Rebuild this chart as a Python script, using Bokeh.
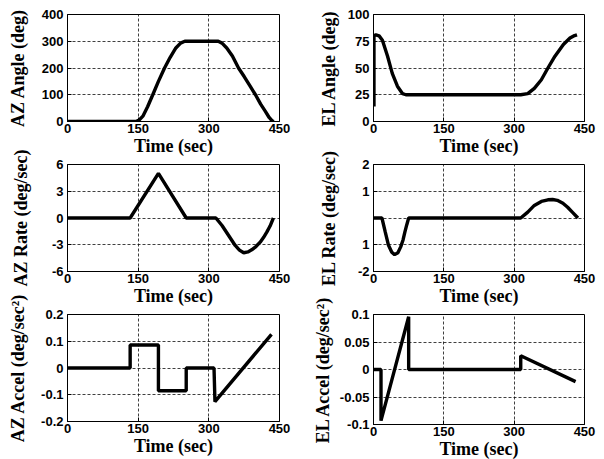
from bokeh.plotting import figure
from bokeh.layouts import column, row
from bokeh.models import FixedTicker, Range1d
from bokeh.embed import file_html
from bokeh.resources import INLINE

# ---------------- data ----------------
x_ticks = [0, 150, 300, 450]
x_tick_labels = ["0", "150", "300", "450"]
x_label = "Time (sec)"

az_angle_t = [0, 145, 152, 160, 170, 181, 193, 206, 218, 230, 240, 249, 320, 328, 338, 350, 363, 375, 387, 399, 410, 420, 428, 434, 438]
az_angle_v = [0, 0, 5, 20, 55, 100, 150, 200, 240, 275, 293, 300, 300, 293, 275, 245, 200, 168, 134, 100, 65, 38, 15, 3, 0]

el_angle_t = [1, 1, 5, 12, 19, 30, 40, 51, 62, 69, 314, 329, 343, 358, 372, 387, 405, 419, 427, 434]
el_angle_v = [14, 80, 81, 80, 76, 61, 45, 33, 26, 25, 25, 26, 31, 39, 50, 61, 72, 78, 80, 81]

az_rate_t = [0, 133, 193, 252, 315, 328, 342, 356, 365, 374, 383, 391, 400, 409, 416, 423, 430, 437]
az_rate_v = [0, 0, 5, 0, 0, -0.84, -1.96, -3.08, -3.6, -3.9, -3.8, -3.57, -3.2, -2.71, -2.2, -1.59, -0.9, 0]

el_rate_t = [0, 18, 25, 32, 39, 45, 52, 58, 63, 67, 71, 75, 314, 329, 343, 358, 372, 382, 392, 404, 414, 425, 436]
el_rate_v = [0, 0, -0.52, -1.02, -1.28, -1.37, -1.3, -1.08, -0.82, -0.52, -0.25, 0, 0, 0.22, 0.47, 0.62, 0.68, 0.69, 0.66, 0.55, 0.4, 0.2, 0]

az_accel_t = [0, 133, 133, 193, 193, 252, 252, 311, 313, 433]
az_accel_v = [0, 0, 0.086, 0.086, -0.085, -0.085, 0, 0, -0.126, 0.126]

el_accel_t = [0, 16, 16, 75, 75, 314, 314, 431]
el_accel_v = [0, 0, -0.093, 0.096, 0, 0, 0.025, -0.022]

az_angle_ticks = [0, 100, 200, 300, 400]
az_angle_labels = ["0", "100", "200", "300", "400"]
el_angle_ticks = [0, 25, 50, 75, 100]
el_angle_labels = ["0", "25", "50", "75", "100"]
az_rate_ticks = [-6, -3, 0, 3, 6]
az_rate_labels = ["-6", "-3", "0", "3", "6"]
el_rate_ticks = [-2, -1, 0, 1, 2]
el_rate_labels = ["-2", "1", "", "1", "2"]
az_accel_ticks = [-0.2, -0.1, 0, 0.1, 0.2]
az_accel_labels = ["-0.2", "-0.1", "0", "0.1", "0.2"]
el_accel_ticks = [-0.1, -0.05, 0, 0.05, 0.1]
el_accel_labels = ["-0.1", "-0.05", "0", "0.05", "0.1"]

y_labels = ["AZ Angle (deg)", "EL Angle (deg)", "AZ Rate (deg/sec)",
            "EL Rate (deg/sec)", "AZ Accel (deg/sec\u00b2)", "EL Accel (deg/sec\u00b2)"]

# ---------------- styling helpers ----------------
TICK_FONT = "Liberation Sans"
LABEL_FONT = "Liberation Serif"


def panel(t, v, yticks, ylabels, ylabel, left_col, b_top, f_h, b_bot, ylab_standoff):
    if left_col:
        bl, fw, br = 67, 212, 23
    else:
        bl, fw, br = 71, 211, 20
    p = figure(frame_width=fw, frame_height=f_h,
               min_border_left=bl, min_border_right=br,
               min_border_top=b_top, min_border_bottom=b_bot,
               x_range=Range1d(0, 450), y_range=Range1d(yticks[0], yticks[-1]),
               output_backend="svg", toolbar_location=None,
               background_fill_color="white", border_fill_color=None,
               outline_line_color="black", outline_line_width=1)
    p.line(t, v, line_color="black", line_width=3.4)
    p.xaxis.ticker = FixedTicker(ticks=x_ticks)
    p.xaxis.major_label_overrides = {k: s for k, s in zip(x_ticks, x_tick_labels)}
    p.yaxis.ticker = FixedTicker(ticks=yticks)
    p.yaxis.major_label_overrides = {k: s for k, s in zip(yticks, ylabels)}
    p.xaxis.axis_label = x_label
    p.yaxis.axis_label = ylabel
    for ax in (p.xaxis[0], p.yaxis[0]):
        ax.axis_line_color = "black"
        ax.major_tick_in = 4
        ax.major_tick_out = 0
        ax.minor_tick_in = 0
        ax.minor_tick_out = 0
        ax.major_tick_line_color = "black"
        ax.major_label_text_font = TICK_FONT
        ax.major_label_text_font_style = "bold"
        ax.major_label_text_font_size = "13px"
        ax.major_label_text_color = "black"
        ax.axis_label_text_font = LABEL_FONT
        ax.axis_label_text_font_style = "bold"
        ax.axis_label_text_font_size = "18px"
        ax.axis_label_text_color = "black"
    p.xaxis.major_label_standoff = 2
    p.yaxis.major_label_standoff = 4
    p.xaxis.axis_label_standoff = 0
    p.yaxis.axis_label_standoff = ylab_standoff
    for g in (p.xgrid[0], p.ygrid[0]):
        g.grid_line_color = "black"
        g.grid_line_alpha = 0.75
        g.grid_line_dash = "3 2"
        g.grid_line_width = 1
    return p


p1 = panel(az_angle_t, az_angle_v, az_angle_ticks, az_angle_labels, y_labels[0], True, 14, 107, 42, 11)
p2 = panel(el_angle_t, el_angle_v, el_angle_ticks, el_angle_labels, y_labels[1], False, 14, 107, 42, 6)
p3 = panel(az_rate_t, az_rate_v, az_rate_ticks, az_rate_labels, y_labels[2], True, 26, 107, 42, 18)
p4 = panel(el_rate_t, el_rate_v, el_rate_ticks, el_rate_labels, y_labels[3], False, 26, 107, 42, 16)
p5 = panel(az_accel_t, az_accel_v, az_accel_ticks, az_accel_labels, y_labels[4], True, 26, 107, 38, 10)
p6 = panel(el_accel_t, el_accel_v, el_accel_ticks, el_accel_labels, y_labels[5], False, 23, 110, 38, 4)

r1 = row(p1, p2)
r2 = row(p3, p4, margin=(-25, 0, 0, 0))
r3 = row(p5, p6, margin=(-25, 0, 0, 0))
layout = column(r1, r2, r3)

open("out.html", "w").write(file_html(layout, INLINE))
